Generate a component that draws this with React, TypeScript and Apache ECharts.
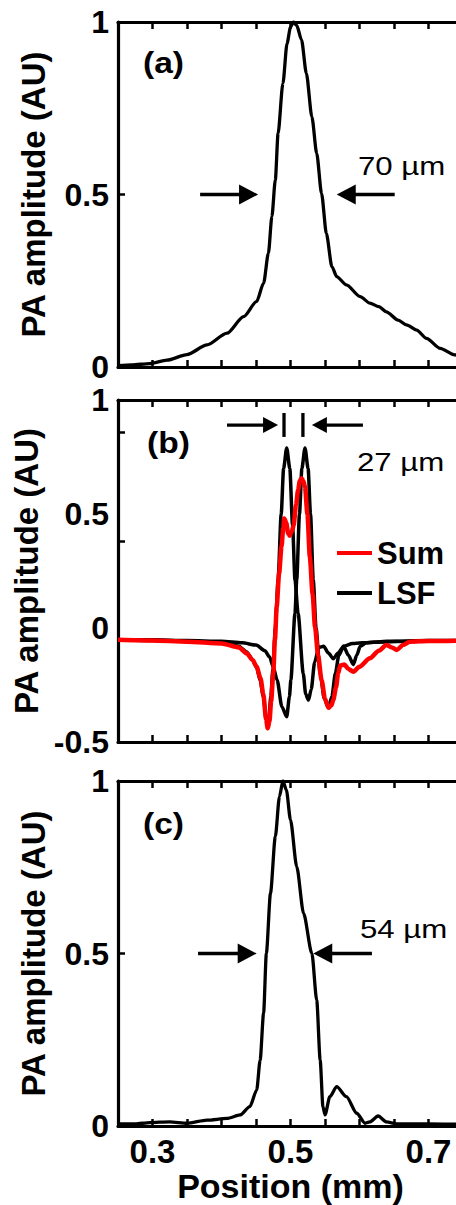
import React, { useEffect, useRef } from "react";
import * as echarts from "echarts";

// ---------- data ----------
const xMin = 0.25;
const xMax = 0.75;
const xStep = 0.05;
const xTickLabels = [0.3, 0.5, 0.7];

// (a)
const posA = [0.25, 0.27, 0.296, 0.321, 0.35, 0.379, 0.408, 0.432, 0.451, 0.461, 0.468, 0.473, 0.478, 0.482, 0.489, 0.495, 0.5, 0.504, 0.509, 0.516, 0.523, 0.531, 0.538, 0.545, 0.552, 0.56, 0.567, 0.581, 0.601, 0.615, 0.628, 0.639, 0.656, 0.668, 0.683, 0.697, 0.717, 0.738, 0.75];
const ampA = [0.004, 0.006, 0.01, 0.02, 0.036, 0.064, 0.098, 0.146, 0.19, 0.243, 0.33, 0.436, 0.542, 0.677, 0.822, 0.938, 0.985, 1.0, 0.99, 0.948, 0.851, 0.725, 0.619, 0.503, 0.387, 0.291, 0.262, 0.238, 0.204, 0.185, 0.175, 0.16, 0.136, 0.122, 0.107, 0.083, 0.054, 0.035, 0.03];

// (b)
const posLsf1 = [0.25, 0.3, 0.35, 0.4, 0.425, 0.4365, 0.445, 0.451, 0.456, 0.4606, 0.4645, 0.4665, 0.469, 0.4715, 0.4745, 0.478, 0.482, 0.4865, 0.49, 0.4945, 0.499, 0.503, 0.5065, 0.511, 0.5185, 0.522, 0.526, 0.53, 0.535, 0.541, 0.548, 0.555, 0.562, 0.569, 0.577, 0.59, 0.62, 0.67, 0.75];
const ampLsf1 = [-0.052, -0.055, -0.058, -0.065, -0.08, -0.105, -0.14, -0.175, -0.23, -0.3, -0.39, -0.42, -0.38, -0.3, -0.18, 0.0, 0.21, 0.5, 0.7, 0.79, 0.7, 0.45, 0.21, 0.064, -0.2, -0.29, -0.316, -0.27, -0.15, -0.085, -0.08, -0.11, -0.135, -0.11, -0.08, -0.068, -0.062, -0.058, -0.055];

const posLsf2 = [0.25, 0.3, 0.35, 0.4, 0.43, 0.45, 0.463, 0.4695, 0.475, 0.4806, 0.4875, 0.4945, 0.4985, 0.5005, 0.5065, 0.509, 0.513, 0.5165, 0.521, 0.5255, 0.529, 0.533, 0.537, 0.543, 0.549, 0.555, 0.56, 0.565, 0.57, 0.577, 0.584, 0.591, 0.596, 0.601, 0.61, 0.64, 0.7, 0.75];
const ampLsf2 = [-0.052, -0.052, -0.055, -0.058, -0.065, -0.075, -0.1, -0.126, -0.17, -0.228, -0.345, -0.389, -0.3, -0.228, 0.064, 0.21, 0.5, 0.7, 0.79, 0.7, 0.5, 0.21, 0.0, -0.2, -0.31, -0.35, -0.3, -0.2, -0.12, -0.08, -0.12, -0.16, -0.12, -0.08, -0.065, -0.058, -0.055, -0.055];

const posSum = [0.25, 0.3, 0.35, 0.4, 0.425, 0.4365, 0.445, 0.451, 0.4565, 0.4606, 0.4645, 0.467, 0.4695, 0.472, 0.475, 0.4775, 0.48, 0.4835, 0.487, 0.4895, 0.491, 0.494, 0.4965, 0.499, 0.502, 0.5045, 0.508, 0.511, 0.5135, 0.516, 0.5185, 0.521, 0.5245, 0.528, 0.532, 0.5355, 0.54, 0.545, 0.55, 0.555, 0.559, 0.562, 0.566, 0.569, 0.572, 0.578, 0.584, 0.591, 0.6, 0.615, 0.628, 0.639, 0.647, 0.654, 0.663, 0.673, 0.7, 0.75];
const ampSum = [-0.052, -0.055, -0.06, -0.068, -0.085, -0.111, -0.14, -0.17, -0.22, -0.29, -0.4, -0.44, -0.41, -0.32, -0.2, -0.05, 0.093, 0.24, 0.357, 0.44, 0.48, 0.46, 0.415, 0.405, 0.425, 0.45, 0.54, 0.605, 0.645, 0.657, 0.645, 0.62, 0.5, 0.313, 0.15, 0.006, -0.12, -0.228, -0.31, -0.35, -0.34, -0.316, -0.26, -0.2, -0.165, -0.16, -0.18, -0.192, -0.17, -0.133, -0.1, -0.075, -0.085, -0.096, -0.075, -0.06, -0.057, -0.055];

// (c)
const posC = [0.25, 0.275, 0.296, 0.325, 0.35, 0.379, 0.408, 0.427, 0.441, 0.451, 0.456, 0.461, 0.465, 0.471, 0.478, 0.484, 0.489, 0.494, 0.5, 0.509, 0.519, 0.531, 0.538, 0.543, 0.547, 0.55, 0.557, 0.567, 0.581, 0.596, 0.608, 0.615, 0.627, 0.639, 0.654, 0.7, 0.75];
const ampC = [0.006, 0.006, 0.01, 0.012, 0.008, 0.017, 0.022, 0.032, 0.056, 0.104, 0.191, 0.327, 0.5, 0.675, 0.839, 0.955, 1.0, 0.974, 0.887, 0.752, 0.616, 0.5, 0.365, 0.191, 0.056, 0.032, 0.085, 0.114, 0.085, 0.037, 0.008, 0.012, 0.029, 0.012, 0.006, 0.006, 0.005];

// axis ranges / ticks per panel
const yMins = [0, -0.5, 0];
const yMaxs = [1, 1, 1];
const yLeftTicks = [[0.5], [0.86, 0.38], [0.5]];
const yRightTicks = [[0.5], [0.83, 0.36], [0.5]];

// annotations
const panelTags = ["(a)", "(b)", "(c)"];
const fwhmLabels = ["70 \u00b5m", "27 \u00b5m", "54 \u00b5m"];
// arrows in data coordinates
const arrowPanels = [0, 0, 1, 1, 2, 2];
const arrowFromX = [0.369, 0.651, 0.408, 0.605, 0.366, 0.618];
const arrowToX = [0.453, 0.567, 0.482, 0.531, 0.451, 0.533];
const arrowY = [0.5, 0.5, 0.89, 0.89, 0.5, 0.5];
const barX = [0.4906, 0.518];
const barY0 = 0.838;
const barY1 = 0.943;

// ---------- layout ----------
const FONT = "'Liberation Sans', Arial, Helvetica, sans-serif";
const GRID_LEFT = 118;
const GRID_W = 345;
const GRID_TOPS = [22, 400, 781];
const GRID_HEIGHTS = [345, 342, 345];
const TAG_POS = [[143, 63], [147, 443], [143, 824]];
const FWHM_POS = [[358, 166], [357, 462], [360, 929]];

const zip = (xs: number[], ys: number[]) => xs.map((x, i) => [x, ys[i]]);

function buildOption() {
  const axisLine = { show: true, onZero: false, lineStyle: { color: "#000", width: 3.2 } };
  const tickStyle = { color: "#000", width: 2.5 };
  const grid: any[] = [];
  const xAxis: any[] = [];
  const yAxis: any[] = [];
  for (let i = 0; i < 3; i++) {
    grid.push({ left: GRID_LEFT, top: GRID_TOPS[i], width: GRID_W, height: GRID_HEIGHTS[i], containLabel: false });
    const baseX = {
      type: "value",
      gridIndex: i,
      min: xMin,
      max: xMax,
      interval: xStep,
      axisLine,
      splitLine: { show: false },
      axisTick: { show: true, inside: true, length: 7, lineStyle: tickStyle },
    };
    xAxis.push({
      ...baseX,
      position: "bottom",
      axisLabel: {
        show: i === 2,
        customValues: xTickLabels,
        fontSize: 33,
        fontWeight: "bold",
        fontFamily: FONT,
        color: "#000",
        margin: 9,
      },
      name: i === 2 ? "Position (mm)" : "",
      nameLocation: "middle",
      nameGap: 42,
      nameTextStyle: { fontSize: 34, fontWeight: "bold", fontFamily: FONT, color: "#000" },
    });
    xAxis.push({ ...baseX, position: "top", axisLabel: { show: false } });
    const baseY = {
      type: "value",
      gridIndex: i,
      min: yMins[i],
      max: yMaxs[i],
      interval: 0.5,
      axisLine,
      splitLine: { show: false },
    };
    yAxis.push({
      ...baseY,
      position: "left",
      axisTick: { show: true, inside: true, length: 7, lineStyle: tickStyle, customValues: yLeftTicks[i] },
      axisLabel: { show: true, fontSize: 32, lineHeight: 27, fontWeight: "bold", fontFamily: FONT, color: "#000", margin: 9 },
      name: "PA amplitude (AU)",
      nameLocation: "middle",
      nameGap: 68,
      nameTextStyle: { fontSize: 33, fontWeight: "bold", fontFamily: FONT, color: "#000" },
    });
    yAxis.push({
      ...baseY,
      position: "right",
      axisTick: { show: true, inside: true, length: 7, lineStyle: tickStyle, customValues: yRightTicks[i] },
      axisLabel: { show: false },
    });
  }
  const lineBase = { type: "line", showSymbol: false, symbol: "none", smooth: 0.25, smoothMonotone: "x", silent: true };
  const series: any[] = [
    { ...lineBase, name: "A", xAxisIndex: 0, yAxisIndex: 0, data: zip(posA, ampA), itemStyle: { color: "#000" }, lineStyle: { color: "#000", width: 3.3 } },
    { ...lineBase, name: "LSF", xAxisIndex: 2, yAxisIndex: 2, data: zip(posLsf1, ampLsf1), itemStyle: { color: "#000" }, lineStyle: { color: "#000", width: 3.5 } },
    { ...lineBase, name: "LSF", xAxisIndex: 2, yAxisIndex: 2, data: zip(posLsf2, ampLsf2), itemStyle: { color: "#000" }, lineStyle: { color: "#000", width: 3.5 } },
    { ...lineBase, name: "Sum", xAxisIndex: 2, yAxisIndex: 2, data: zip(posSum, ampSum), itemStyle: { color: "#ff0000" }, lineStyle: { color: "#ff0000", width: 4.5 }, z: 3 },
    { ...lineBase, name: "C", xAxisIndex: 4, yAxisIndex: 4, data: zip(posC, ampC), itemStyle: { color: "#000" }, lineStyle: { color: "#000", width: 3.3 } },
  ];
  return {
    animation: false,
    backgroundColor: "#fff",
    grid,
    xAxis,
    yAxis,
    series,
    legend: {
      data: ["Sum", "LSF"],
      orient: "vertical",
      left: 337,
      top: 537,
      padding: 0,
      itemGap: 8,
      itemWidth: 35,
      itemHeight: 4,
      icon: "rect",
      selectedMode: false,
      textStyle: { fontSize: 31, fontWeight: "bold", fontFamily: FONT, color: "#000", lineHeight: 32 },
    },
  };
}

export default function App() {
  const ref = useRef<HTMLDivElement>(null);
  useEffect(() => {
    if (!ref.current) return;
    const chart = echarts.init(ref.current, null, { renderer: "svg" });
    chart.setOption(buildOption());
    const toPx = (panel: number, p: number[]) =>
      chart.convertToPixel({ xAxisIndex: panel * 2, yAxisIndex: panel * 2 } as any, p) as number[];
    const graphics: any[] = [];
    for (let k = 0; k < arrowFromX.length; k++) {
      const p = arrowPanels[k];
      const a = toPx(p, [arrowFromX[k], arrowY[k]]);
      const b = toPx(p, [arrowToX[k], arrowY[k]]);
      const dir = Math.sign(b[0] - a[0]);
      const headLen = p === 1 ? 15 : 19;
      const headHalf = p === 1 ? 8 : 10;
      const baseX = b[0] - dir * headLen;
      graphics.push({
        type: "line",
        shape: { x1: a[0], y1: a[1], x2: baseX + dir, y2: b[1] },
        style: { stroke: "#000", lineWidth: 3.3 },
        silent: true,
      });
      graphics.push({
        type: "polygon",
        shape: { points: [[b[0], b[1]], [baseX, b[1] - headHalf], [baseX, b[1] + headHalf]] },
        style: { fill: "#000" },
        silent: true,
      });
    }
    for (const bx of barX) {
      const t = toPx(1, [bx, barY1]);
      const u = toPx(1, [bx, barY0]);
      graphics.push({
        type: "line",
        shape: { x1: t[0], y1: t[1], x2: u[0], y2: u[1] },
        style: { stroke: "#000", lineWidth: 3.3 },
        silent: true,
      });
    }
    for (let i = 0; i < 3; i++) {
      graphics.push({
        type: "text",
        x: TAG_POS[i][0],
        y: TAG_POS[i][1],
        scaleX: 1.12,
        style: { text: panelTags[i], fontSize: 30, fontWeight: "bold", fontFamily: FONT, fill: "#000", textAlign: "left", textVerticalAlign: "middle" },
        silent: true,
      });
      graphics.push({
        type: "text",
        x: FWHM_POS[i][0],
        y: FWHM_POS[i][1],
        scaleX: 1.2,
        style: { text: fwhmLabels[i], fontSize: 26, fontFamily: FONT, fill: "#000", textAlign: "left", textVerticalAlign: "middle" },
        silent: true,
      });
    }
    chart.setOption({ graphic: graphics });
    return () => chart.dispose();
  }, []);
  return (
    <div style={{ position: "absolute", left: 0, top: 0, width: 456, height: 1205, overflow: "hidden", background: "#fff" }}>
      <div ref={ref} style={{ width: 480, height: 1205 }} />
    </div>
  );
}
